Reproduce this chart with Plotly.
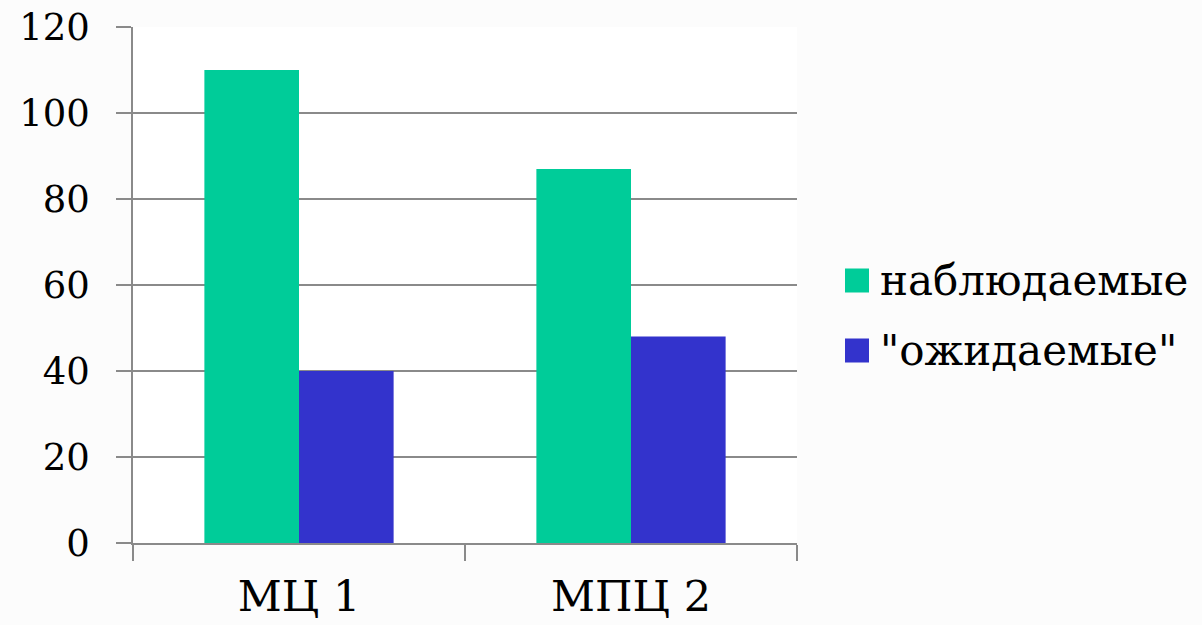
import plotly.graph_objects as go

# Categories and series values
categories = ["МЦ 1", "МПЦ 2"]
observed = [110, 87]
expected = [40, 48]
series_names = ["наблюдаемые", "\"ожидаемые\""]
series_colors = ["#00CC99", "#3333CC"]
y_ticks = [0, 20, 40, 60, 80, 100, 120]

FONT = "'DejaVu Serif', serif"
GRID = "#8a8a8a"

fig = go.Figure()
for name, vals, col in zip(series_names, [observed, expected], series_colors):
    fig.add_trace(go.Bar(
        x=categories, y=vals, name=name,
        marker=dict(color=col, line=dict(width=0)),
        showlegend=False,
    ))

# Legend drawn as coloured squares with text beside them
W, H = 1202, 625
ML, MR, MT, MB = 133, 405, 27, 82
pw, ph = W - ML - MR, H - MT - MB

def px_to_paper(x, y):
    return (x - ML) / pw, (H - MB - y) / ph

legend_rows_y = [280.5, 350.5]
sq = 24
for name, col, cy in zip(series_names, series_colors, legend_rows_y):
    x0, y0 = px_to_paper(845, cy + sq / 2)
    x1, y1 = px_to_paper(845 + sq, cy - sq / 2)
    fig.add_shape(type="rect", xref="paper", yref="paper",
                  x0=x0, x1=x1, y0=y0, y1=y1,
                  fillcolor=col, line=dict(width=0))
    tx, ty = px_to_paper(878, cy)
    fig.add_annotation(xref="paper", yref="paper", x=tx, y=ty,
                       xanchor="left", yanchor="middle", showarrow=False,
                       text=name, font=dict(family=FONT, size=42, color="#000"))

fig.update_layout(
    width=W, height=H,
    margin=dict(l=ML, r=MR, t=MT, b=MB, pad=0, autoexpand=False),
    paper_bgcolor="#fcfcfc",
    plot_bgcolor="#ffffff",
    barmode="group",
    bargap=0.43,
    bargroupgap=0,
    showlegend=False,
    xaxis=dict(
        type="category", automargin=False,
        showline=True, linecolor=GRID, linewidth=1.5,
        ticks="outside", tickson="boundaries", ticklen=16,
        tickcolor=GRID, tickwidth=1.5,
        tickfont=dict(family=FONT, size=43, color="#000"),
        showgrid=False, ticklabelstandoff=15,
    ),
    yaxis=dict(
        range=[0, 120], tickvals=y_ticks, automargin=False,
        showline=True, linecolor=GRID, linewidth=1.5,
        ticks="outside", ticklen=15, tickcolor=GRID, tickwidth=1.5,
        showgrid=True, gridcolor=GRID, gridwidth=1.5,
        zeroline=False,
        tickfont=dict(family=FONT, size=37, color="#000"),
        ticklabelstandoff=19,
    ),
)

fig.write_html("out.html")
